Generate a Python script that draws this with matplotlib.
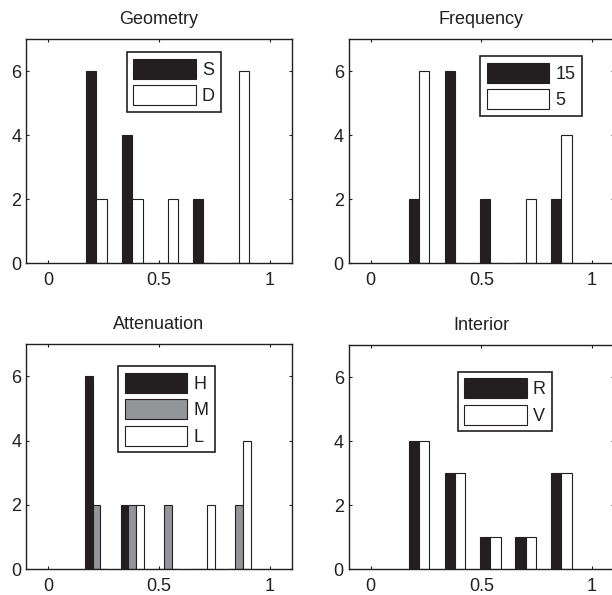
import matplotlib
matplotlib.use("Agg")
import matplotlib.pyplot as plt
from matplotlib.legend_handler import HandlerPatch
from matplotlib.patches import Rectangle
import numpy as np

plt.rcParams['font.family'] = ['Liberation Sans', 'DejaVu Sans']

bin_centers = [0.218, 0.380, 0.541, 0.700, 0.862]

titles = ["Geometry", "Frequency", "Attenuation", "Interior"]

geometry_labels = ["S", "D"]
geometry_S = [6, 4, 0, 2, 0]
geometry_D = [2, 2, 2, 0, 6]

frequency_labels = ["15", "5"]
frequency_15 = [2, 6, 2, 0, 2]
frequency_5 = [6, 0, 0, 2, 4]

attenuation_labels = ["H", "M", "L"]
attenuation_H = [6, 2, 0, 0, 0]
attenuation_M = [2, 2, 2, 0, 2]
attenuation_L = [0, 2, 0, 2, 4]

interior_labels = ["R", "V"]
interior_R = [4, 3, 1, 1, 3]
interior_V = [4, 3, 1, 1, 3]

BLACK = "#231f20"
GRAY = "#939598"
WHITE = "#ffffff"
FS = 13

panels = [
    (geometry_labels, [geometry_S, geometry_D], [BLACK, WHITE]),
    (frequency_labels, [frequency_15, frequency_5], [BLACK, WHITE]),
    (attenuation_labels, [attenuation_H, attenuation_M, attenuation_L], [BLACK, GRAY, WHITE]),
    (interior_labels, [interior_R, interior_V], [BLACK, WHITE]),
]

# axes rectangles in figure fractions (left, bottom, width, height)
W, H = 612, 595
rects = [
    (26 / W, 1 - 263 / H, 266 / W, 224 / H),
    (348.7 / W, 1 - 263 / H, 265.3 / W, 224 / H),
    (26 / W, 1 - 569 / H, 266 / W, 224.7 / H),
    (348.7 / W, 1 - 569 / H, 265.3 / W, 224 / H),
]
legend_anchor = [(0.3786, 0.9406), (0.495, 0.924), (0.347, 0.903), (0.411, 0.881)]

fig = plt.figure(figsize=(6.12, 5.95), dpi=100)

for i, (labels, series, colors) in enumerate(panels):
    ax = fig.add_axes(rects[i])
    n = len(series)
    centers = np.array(bin_centers)
    spacing = np.mean(np.diff(centers))
    group_w = spacing * min(0.8, n / (n + 1.5))
    bw = group_w / n
    for k, (vals, col) in enumerate(zip(series, colors)):
        x = centers - group_w / 2 + bw * (k + 0.5)
        ax.bar(x, vals, width=bw, color=col, edgecolor=BLACK,
               linewidth=0.8, label=labels[k], zorder=2)
    ax.set_xlim(-0.1, 1.1)
    ax.set_ylim(0, 7)
    ax.set_xticks([0, 0.5, 1])
    ax.set_xticklabels(["0", "0.5", "1"])
    ax.set_yticks([0, 2, 4, 6])
    ax.tick_params(direction="in", length=2.5, width=0.8, top=True, right=True,
                   labelsize=FS, colors=BLACK)
    ax.tick_params(axis="x", pad=6.5)
    ax.tick_params(axis="y", pad=3.5)
    for sp in ax.spines.values():
        sp.set_color(BLACK)
        sp.set_linewidth(1.0)
        sp.set_zorder(3)
    ax.set_title(titles[i], fontsize=FS, color=BLACK, pad=11)
    leg = ax.legend(loc="upper left", bbox_to_anchor=legend_anchor[i],
                    borderaxespad=0, fontsize=FS, handlelength=3.47,
                    handleheight=1.33, labelspacing=0.36, borderpad=0.36,
                    handletextpad=0.33, fancybox=False, framealpha=1,
                    edgecolor=BLACK,
                    handler_map={Rectangle: HandlerPatch(xpad=0.255)})
    leg.get_frame().set_linewidth(1.2)
    for t in leg.get_texts():
        t.set_color(BLACK)

fig.savefig("out.png", dpi=100)
